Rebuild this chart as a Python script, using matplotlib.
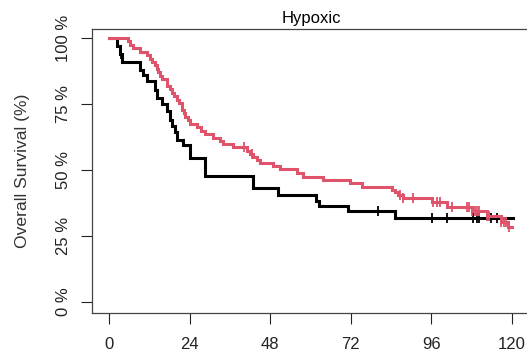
import numpy as np
import matplotlib
matplotlib.use("Agg")
import matplotlib.pyplot as plt

plt.rcParams['font.family'] = ['Liberation Sans', 'DejaVu Sans']

# Kaplan-Meier steps (months, survival %)
black_t = [0, 2.5, 3.2, 3.9, 9.2, 10.2, 11.2, 13.7, 14.2, 15.7, 17.2, 18.2,
           18.7, 19.6, 20.3, 22.1, 24.1, 28.6, 43.0, 50.4, 61.8, 62.7, 71.3, 85.2, 120.3]
black_s = [100, 97.0, 93.9, 90.9, 87.9, 86.0, 83.7, 80.4, 77.2, 75.0, 72.5, 69.0,
           66.6, 64.5, 61.4, 59.5, 54.4, 47.9, 43.1, 40.7, 38.3, 36.2, 34.3, 31.7, 31.7]
black_cens = [3.7, 80.2, 96.1, 100.6, 108.5, 109.5, 110.2, 113.7, 115.6]

red_t = [0, 5.7, 6.2, 7.2, 9.2, 11.2, 12.2, 12.7, 13.7, 14.2, 14.7, 15.2, 15.7,
         17.2, 18.2, 18.7, 19.5, 20.3, 21.0, 21.6, 22.3, 22.6, 23.5, 24.1, 26.1,
         27.5, 28.6, 31.1, 33.0, 34.0, 37.0, 41.0, 42.0, 43.0, 44.0, 45.0, 48.9,
         51.0, 55.9, 57.9, 63.8, 71.8, 75.3, 84.2, 85.2, 86.0, 87.6, 96.1, 100.6,
         108.0, 112.5, 116.9, 118.9, 120.0]
red_s = [100, 98.7, 97.4, 96.1, 94.8, 93.5, 92.2, 90.9, 89.6, 88.3, 87.0, 85.7, 84.4,
         81.8, 80.5, 79.2, 77.9, 76.6, 75.3, 72.7, 71.4, 70.1, 68.8, 67.5, 66.2,
         64.9, 63.6, 62.3, 61.0, 59.7, 58.6, 57.2, 56.0, 55.0, 53.8, 52.6, 51.4,
         50.2, 48.9, 47.5, 46.2, 44.9, 43.5, 42.3, 41.5, 40.5, 39.3, 37.8, 35.9,
         34.3, 32.6, 30.4, 28.5, 28.5]
red_cens = [40.2, 42.7, 86.7, 87.6, 90.6, 96.6, 97.6, 98.6, 102.2, 106.5, 107.3,
            108.0, 109.0, 109.7, 110.3, 112.5, 113.2, 116.9, 117.6, 118.2, 119.2]

x_ticks = [0, 24, 48, 72, 96, 120]
y_ticks = [0, 25, 50, 75, 100]
y_labels = ["0 %", "25 %", "50 %", "75 %", "100 %"]

RED = "#DF536B"


def surv_at(ts, ss, t):
    i = np.searchsorted(ts, t, side='right') - 1
    return np.asarray(ss)[i]


fig = plt.figure(figsize=(5.27, 3.58), dpi=100)
ax = fig.add_axes([92 / 527, 1 - 313 / 358, 438 / 527, 284 / 358])

for ts, ss, cens, col in [(black_t, black_s, black_cens, "black"),
                          (red_t, red_s, red_cens, RED)]:
    ax.step(ts, ss, where='post', color=col, lw=2.2, solid_joinstyle='miter')
    ax.plot(cens, surv_at(ts, ss, cens), ls='none', marker='|',
            ms=7.5, mew=1.3, color=col)

ax.set_xlim(-5.06, 125.4)
ax.set_ylim(-4.17, 103.4)
ax.set_xticks(x_ticks)
ax.set_yticks(y_ticks)
ax.set_yticklabels(y_labels, rotation=90, va='center')
ax.tick_params(labelsize=12, length=8, width=0.8, colors='#222222')
ax.tick_params(axis='x', pad=9)
ax.tick_params(axis='y', pad=7)
for sp in ax.spines.values():
    sp.set_linewidth(0.9)
    sp.set_color('#444444')
ax.spines['right'].set_visible(False)

ax.set_title("Hypoxic", fontsize=12, pad=4)
ax.set_ylabel("Overall Survival (%)", fontsize=12.6, labelpad=19, color='#333333')

fig.savefig("out.png", dpi=100)
